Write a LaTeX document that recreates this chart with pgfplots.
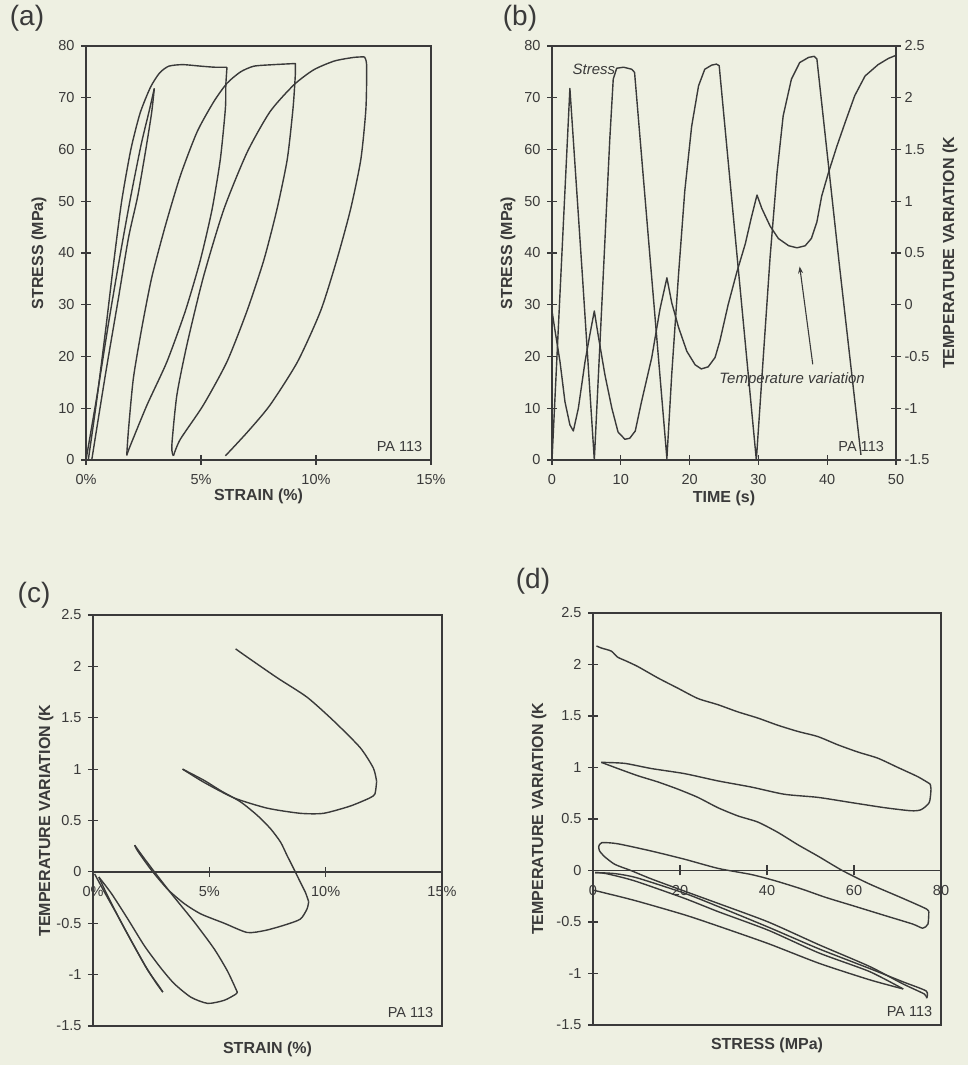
\documentclass[border=0pt]{standalone}
\usepackage{fontspec}
\setmainfont{Liberation Sans}
\usepackage{pgfplots}
\pgfplotsset{compat=1.18}
\usetikzlibrary{arrows.meta}

\definecolor{paper}{HTML}{EEF0E2}
\definecolor{ink}{HTML}{3A3A3A}

\newcommand{\ticksize}{\fontsize{14.5}{16}\selectfont}
\newcommand{\labsize}{\fontsize{16}{18}\selectfont\bfseries}

\pgfplotsset{
  panel/.style={
    scale only axis, anchor=south west, clip=false,
    axis line style={ink, line width=1.4pt},
    every tick/.style={ink, line width=1.1pt},
    tick align=center, major tick length=10pt,
    tick label style={font=\ticksize, text=ink},
    /pgf/number format/assume math mode=true,
  },
  boxed/.style={xtick pos=left, ytick pos=left,
    yticklabel style={xshift=-3pt}, xticklabel style={yshift=-6pt}},
  zeroline/.style={axis x line=middle, axis y line=none,
    x axis line style={-, line width=1.4pt},
    hide obscured x ticks=false, xticklabel style={yshift=-6pt}},
  xlab/.style={every axis x label/.style={at={(axis description cs:0.5,#1)}, anchor=center, font=\labsize, text=ink}},
  ylab/.style={every axis y label/.style={at={(axis description cs:#1,0.5)}, rotate=90, anchor=center, font=\labsize, text=ink}},
  curve/.style={ink, line width=1.4pt, mark=none, line join=round},
  scurve/.style={curve, smooth, tension=0.4},
}

\begin{document}
\begin{tikzpicture}
\fill[paper] (0pt,0pt) rectangle (968pt,1065pt);
\path[use as bounding box] (0pt,0pt) rectangle (968pt,1065pt);

% ---------- (a) stress vs strain
\begin{axis}[panel, boxed, at={(86pt,605pt)}, width=345pt, height=414pt,
  xmin=0, xmax=15, ymin=0, ymax=80,
  xtick={0,5,10,15}, xticklabels={0\%,5\%,10\%,15\%},
  ytick={0,10,20,30,40,50,60,70,80},
  xlabel={STRAIN (\%)}, ylabel={STRESS (MPa)},
  xlab=-0.087, ylab=-0.136]
\addplot[scurve] coordinates {(0,0) (0.5,13) (1.0,27) (1.5,40) (1.95,51) (2.4,61) (2.75,67.5) (2.97,71.8)};
\addplot[scurve] coordinates {(2.97,71.8) (2.85,67) (2.6,60) (2.25,51) (1.85,43) (1.4,31) (0.9,18) (0.5,7) (0.25,0)};
\addplot[scurve] coordinates {(0.1,0) (0.45,11) (0.85,25) (1.2,38) (1.55,50) (1.95,60) (2.35,67) (2.8,72) (3.2,74.8) (3.6,76.1) (4.2,76.4) (5.0,76.1) (5.6,75.9) (6.13,75.9)};
\addplot[scurve] coordinates {(6.13,75.9) (6.08,72.5) (6.06,67.9) (5.84,58.1) (5.48,48.4) (4.97,38.6) (4.32,28.8) (3.52,19.0) (2.65,10.6) (1.92,2.7) (1.77,0.9)};
\addplot[scurve] coordinates {(1.77,0.9) (1.85,6.0) (2.06,15.8) (2.43,25.6) (2.86,35.3) (3.44,45.1) (4.1,54.9) (4.83,63.4) (5.55,69.2) (6.13,72.8) (6.72,75) (7.3,76.1) (8.17,76.4) (9.04,76.6) (9.1,76.6)};
\addplot[scurve] coordinates {(9.1,76.6) (9.1,74.4) (9.0,67.9) (8.75,58.1) (8.3,48.4) (7.73,38.6) (7.0,28.8) (6.13,19) (5.1,10.6) (4.1,4.0) (3.8,0.8)};
\addplot[scurve] coordinates {(3.8,0.8) (3.73,2.7) (3.95,12.5) (4.39,22.3) (5.1,35.3) (5.99,48.4) (7.0,59.4) (8.0,67.3) (9.04,72.5) (9.9,75.4) (10.8,77.1) (11.65,77.8) (12.1,77.9)};
\addplot[scurve] coordinates {(12.1,77.9) (12.2,76.4) (12.17,67.9) (11.95,58.1) (11.5,48.4) (10.9,38.6) (10.2,28.8) (9.2,19.0) (8.0,10.6) (7.0,5.3) (6.06,0.8)};
\node[anchor=south east, font=\ticksize, text=ink] at (rel axis cs:0.985,0.012) {PA 113};
\end{axis}

% ---------- (b) stress and temperature vs time
\begin{axis}[panel, boxed, at={(552pt,605pt)}, width=344pt, height=414pt,
  xmin=0, xmax=50, ymin=0, ymax=80,
  xtick={0,10,20,30,40,50}, ytick={0,10,20,30,40,50,60,70,80},
  xlabel={TIME (s)}, ylabel={STRESS (MPa)},
  xlab=-0.092, ylab=-0.128]
\addplot[curve] coordinates {(0,0) (1.3,36) (2.6,71.8) (4.4,36) (6.15,0) (7.46,36) (8.4,62) (8.9,73.6) (9.4,75.7) (10.4,75.9) (11.6,75.5) (12.0,74.9) (14.35,37.5) (16.7,0.3) (17.4,16.5) (18.4,36) (19.3,52) (20.3,64.5) (21.3,72.3) (22.2,75.5) (23.2,76.3) (23.9,76.5) (24.3,76.2) (27,38) (29.7,0) (30.7,19.7) (31.7,39.2) (32.7,55.4) (33.6,66.5) (34.8,73.6) (36.0,76.8) (37.3,77.8) (38.1,78) (38.5,77.5) (41.7,38.5) (44.9,1)};
\node[font=\fontsize{15}{16}\selectfont\itshape, text=ink] at (axis cs:6.1,75.5) {Stress};
\node[font=\fontsize{15}{16}\selectfont\itshape, text=ink] at (axis cs:34.9,15.5) {Temperature variation};
\draw[ink, line width=1.1pt, -{Stealth[length=7pt,width=5pt]}] (axis cs:37.9,18.5) -- (axis cs:36.0,37.4);
\node[anchor=south east, font=\ticksize, text=ink] at (rel axis cs:0.975,0.012) {PA 113};
\end{axis}
\begin{axis}[panel, at={(552pt,605pt)}, width=344pt, height=414pt,
  xmin=0, xmax=50, ymin=-1.5, ymax=2.5,
  axis x line=none, axis y line*=right,
  ytick={-1.5,-1,-0.5,0,0.5,1,1.5,2,2.5},
  ylabel={TEMPERATURE VARIATION (K}, ylab=1.157]
\addplot[curve] coordinates {(0,-0.06) (0.44,-0.25) (1.16,-0.55) (1.89,-0.94) (2.6,-1.16) (3.1,-1.22) (3.83,-1.0) (4.8,-0.55) (5.5,-0.29) (6.15,-0.06) (6.7,-0.29) (7.7,-0.68) (8.7,-1.0) (9.6,-1.23) (10.6,-1.3) (11.3,-1.29) (12.1,-1.22) (13.0,-0.94) (14.5,-0.51) (15.7,-0.04) (16.7,0.26) (17.4,0.02) (18.4,-0.22) (19.6,-0.45) (20.8,-0.58) (21.7,-0.62) (22.7,-0.6) (23.7,-0.51) (24.4,-0.35) (25.6,0.0) (26.8,0.30) (28.1,0.59) (29.0,0.85) (29.8,1.06) (30.5,0.93) (31.7,0.76) (32.9,0.64) (34.4,0.57) (35.6,0.55) (36.8,0.57) (37.7,0.64) (38.5,0.8) (39.2,1.05) (40.2,1.28) (41.4,1.53) (42.6,1.76) (44.0,2.02) (45.5,2.21) (47.4,2.32) (48.9,2.38) (50,2.41)};
\end{axis}

% ---------- (c) temperature vs strain
\begin{axis}[panel, boxed, at={(93pt,39pt)}, width=349pt, height=411pt,
  xmin=0, xmax=15, ymin=-1.5, ymax=2.5,
  xtick=\empty, ytick={-1.5,-1,-0.5,0,0.5,1,1.5,2,2.5},
  xlabel={STRAIN (\%)}, ylabel={TEMPERATURE VARIATION (K},
  xlab=-0.058, ylab=-0.135]
\addplot[scurve] coordinates {(0.07,-0.02) (0.5,-0.2) (1.07,-0.43) (1.64,-0.67) (2.21,-0.9) (2.71,-1.08) (3.0,-1.17)};
\addplot[scurve] coordinates {(3.0,-1.17) (2.86,-1.12) (2.36,-0.96) (1.79,-0.73) (1.21,-0.49) (0.6,-0.22) (0.25,-0.05)};
\addplot[scurve] coordinates {(0.25,-0.05) (0.79,-0.21) (1.5,-0.46) (2.21,-0.72) (2.93,-0.94) (3.5,-1.09) (4.21,-1.22) (4.93,-1.28) (5.64,-1.25) (6.14,-1.19) (6.2,-1.17)};
\addplot[scurve] coordinates {(6.2,-1.17) (5.79,-0.97) (5.21,-0.75) (4.36,-0.49) (3.36,-0.21) (2.64,0.0) (2.14,0.15) (1.79,0.26)};
\addplot[scurve] coordinates {(1.79,0.26) (1.93,0.2) (2.5,0.02) (3.21,-0.17) (3.93,-0.31) (4.64,-0.41) (5.64,-0.5) (6.63,-0.59) (7.4,-0.57) (8.2,-0.52) (8.91,-0.46) (9.2,-0.36) (9.27,-0.29)};
\addplot[scurve] coordinates {(9.27,-0.29) (9.13,-0.2) (8.91,-0.1) (8.63,0.03) (8.34,0.16) (8.06,0.29) (7.63,0.42) (7.06,0.55) (6.35,0.68) (5.49,0.79) (4.78,0.89) (3.85,1.0)};
\addplot[scurve] coordinates {(3.85,1.0) (4.78,0.87) (6.06,0.72) (7.49,0.62) (8.91,0.57) (9.91,0.57) (11.05,0.64) (11.9,0.72) (12.12,0.76) (12.19,0.88)};
\addplot[scurve] coordinates {(12.19,0.88) (12.05,1.01) (11.48,1.21) (10.34,1.47) (9.2,1.7) (7.91,1.89) (6.63,2.09) (6.13,2.17)};
\node[anchor=south east, font=\ticksize, text=ink] at (rel axis cs:0.985,0.012) {PA 113};
\end{axis}
\begin{axis}[panel, zeroline, at={(93pt,39pt)}, width=349pt, height=411pt,
  xmin=0, xmax=15, ymin=-1.5, ymax=2.5,
  xtick={0,5,10,15}, xticklabels={0\%,5\%,10\%,15\%}]
\end{axis}

% ---------- (d) temperature vs stress
\begin{axis}[panel, boxed, at={(593pt,40pt)}, width=348pt, height=412pt,
  xmin=0, xmax=80, ymin=-1.5, ymax=2.5,
  xtick=\empty, ytick={-1.5,-1,-0.5,0,0.5,1,1.5,2,2.5},
  xlabel={STRESS (MPa)}, ylabel={TEMPERATURE VARIATION (K},
  xlab=-0.049, ylab=-0.155]
\addplot[scurve] coordinates {(0,-0.19) (9.5,-0.29) (21,-0.43) (28.8,-0.54) (40.3,-0.71) (51.9,-0.90) (63.5,-1.06) (71.3,-1.15)};
\addplot[scurve] coordinates {(71.3,-1.15) (63.5,-0.98) (51.9,-0.80) (40.3,-0.58) (28.8,-0.40) (21,-0.27) (9.5,-0.1) (3,-0.03) (0.5,-0.02)};
\addplot[scurve] coordinates {(0.5,-0.02) (5,-0.03) (10,-0.07) (21,-0.22) (28.8,-0.35) (40.3,-0.55) (51.9,-0.76) (63.5,-0.95) (71.2,-1.08) (76.6,-1.17) (76.7,-1.24)};
\addplot[scurve] coordinates {(76.7,-1.24) (76.2,-1.2) (71.2,-1.1) (63.5,-0.93) (51.9,-0.72) (40.3,-0.50) (28.8,-0.32) (21,-0.2) (13.3,-0.08) (8.7,0.0) (5,0.06) (2.5,0.14) (1.5,0.19)};
\addplot[scurve] coordinates {(1.5,0.19) (1.3,0.23) (2,0.27) (5.6,0.26) (13.3,0.19) (21,0.11) (28.8,0.02) (36.5,-0.04) (41.9,-0.1) (48,-0.18) (53.4,-0.26) (59.6,-0.34) (67.3,-0.44) (73.5,-0.52) (75.8,-0.56) (77,-0.52) (77.2,-0.40)};
\addplot[scurve] coordinates {(77.2,-0.40) (76.5,-0.37) (71.2,-0.27) (63.5,-0.13) (57.3,0.0) (51.7,0.14) (47.1,0.25) (42.5,0.37) (37.9,0.47) (33.3,0.53) (28.7,0.61) (24.1,0.71) (19.5,0.79) (14.9,0.86) (10.3,0.92) (5.7,0.99) (1.9,1.05)};
\addplot[scurve] coordinates {(1.9,1.05) (7.3,1.04) (13.4,0.99) (21.1,0.94) (28.7,0.87) (36.4,0.81) (44,0.74) (51.7,0.71) (59.3,0.66) (67,0.61) (73.1,0.58) (75.4,0.59) (77.3,0.66) (77.7,0.79) (77.5,0.84)};
\addplot[scurve] coordinates {(77.5,0.84) (74.7,0.91) (70.1,1.0) (65.5,1.09) (60.9,1.15) (56.3,1.22) (51.7,1.3) (47.1,1.35) (42.5,1.41) (37.9,1.48) (33.3,1.54) (28.7,1.61) (24.1,1.67) (19.5,1.77) (14.9,1.87) (10.3,1.98) (7.3,2.04) (5.7,2.07) (4.2,2.13) (1.9,2.16) (0.8,2.18)};
\node[anchor=south east, font=\ticksize, text=ink] at (rel axis cs:0.985,0.012) {PA 113};
\end{axis}
\begin{axis}[panel, zeroline, at={(593pt,40pt)}, width=348pt, height=412pt,
  xmin=0, xmax=80, ymin=-1.5, ymax=2.5,
  xtick={0,20,40,60,80}]
\end{axis}

% panel letters
\node[font=\fontsize{28}{30}\selectfont, text=ink] at (27pt,1047pt) {(a)};
\node[font=\fontsize{28}{30}\selectfont, text=ink] at (520pt,1047pt) {(b)};
\node[font=\fontsize{28}{30}\selectfont, text=ink] at (34pt,470pt) {(c)};
\node[font=\fontsize{28}{30}\selectfont, text=ink] at (533pt,484pt) {(d)};
\end{tikzpicture}
\end{document}
